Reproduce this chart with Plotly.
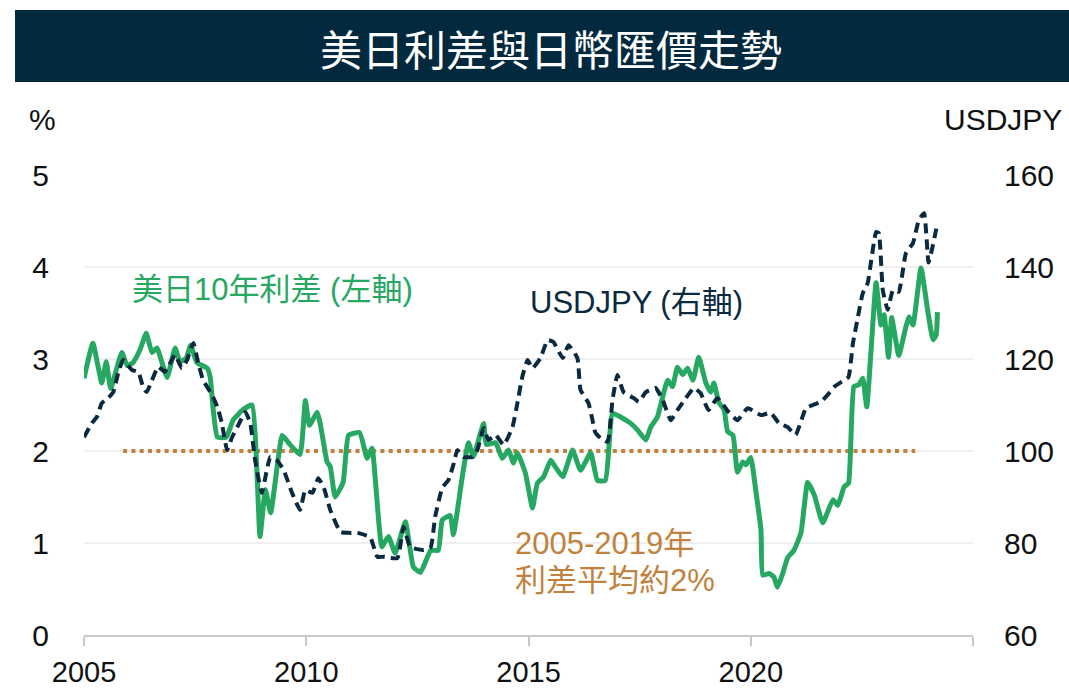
import plotly.graph_objects as go

# ---- Data ----
spread_t = [2005.0, 2005.2, 2005.4, 2005.5, 2005.6, 2005.85, 2005.97, 2006.1, 2006.26, 2006.4,
            2006.53, 2006.64, 2006.87, 2007.05, 2007.16, 2007.3, 2007.4, 2007.54, 2007.77, 2007.84,
            2007.9, 2008.0, 2008.2, 2008.36, 2008.58, 2008.78, 2008.96, 2009.08, 2009.2, 2009.46,
            2009.6, 2009.86, 2009.98, 2010.07, 2010.25, 2010.47, 2010.54, 2010.65, 2010.83, 2010.95,
            2011.2, 2011.37, 2011.48, 2011.7, 2011.85, 2012.0, 2012.23, 2012.41, 2012.57, 2012.8,
            2012.97, 2013.06, 2013.24, 2013.31, 2013.51, 2013.65, 2013.76, 2013.99, 2014.05, 2014.26,
            2014.41, 2014.55, 2014.66, 2014.75, 2014.93, 2015.09, 2015.2, 2015.34, 2015.5, 2015.6,
            2015.77, 2015.99, 2016.17, 2016.4, 2016.55, 2016.73, 2016.89, 2017.07, 2017.3, 2017.45,
            2017.64, 2017.75, 2017.9, 2018.13, 2018.24, 2018.35, 2018.47, 2018.58, 2018.7, 2018.83,
            2018.99, 2019.1, 2019.17, 2019.28, 2019.4, 2019.48, 2019.6, 2019.7, 2019.82, 2019.89,
            2020.0, 2020.11, 2020.23, 2020.27, 2020.41, 2020.52, 2020.6, 2020.72, 2020.83, 2020.97,
            2021.13, 2021.28, 2021.43, 2021.62, 2021.85, 2021.96, 2022.1, 2022.2, 2022.32, 2022.43,
            2022.52, 2022.61, 2022.82, 2022.93, 2023.0, 2023.1, 2023.17, 2023.33, 2023.49, 2023.56,
            2023.65, 2023.83, 2023.98, 2024.1, 2024.17, 2024.2]
spread_v = [2.79, 3.17, 2.74, 2.97, 2.68, 3.07, 2.93, 2.96, 3.10, 3.28,
            3.07, 3.12, 2.80, 3.12, 2.97, 3.01, 3.15, 2.96, 2.90, 2.80,
            2.48, 2.15, 2.15, 2.34, 2.45, 2.50, 1.07, 1.58, 1.33, 2.17,
            2.09, 1.96, 2.55, 2.28, 2.42, 1.88, 1.83, 1.50, 1.66, 2.17,
            2.20, 1.92, 2.03, 0.96, 1.07, 0.89, 1.23, 0.74, 0.68, 0.92,
            0.92, 1.25, 1.30, 1.09, 1.72, 2.09, 1.94, 2.30, 2.07, 2.09,
            1.92, 2.01, 1.87, 1.98, 1.76, 1.38, 1.65, 1.72, 1.90, 1.83,
            1.72, 2.01, 1.79, 1.98, 1.68, 1.68, 2.41, 2.37, 2.30, 2.23,
            2.12, 2.26, 2.37, 2.77, 2.70, 2.91, 2.83, 2.90, 2.77, 3.02,
            2.74, 2.64, 2.74, 2.53, 2.45, 2.21, 2.17, 1.77, 1.88, 1.85,
            1.93, 1.58, 1.14, 0.65, 0.67, 0.63, 0.52, 0.67, 0.84, 0.92,
            1.11, 1.66, 1.52, 1.22, 1.47, 1.41, 1.61, 1.65, 2.70, 2.72,
            2.79, 2.48, 3.83, 3.37, 3.48, 3.02, 3.45, 3.04, 3.35, 3.46,
            3.37, 3.99, 3.53, 3.21, 3.26, 3.51]

fx_t = [2005.0, 2005.18, 2005.29, 2005.4, 2005.54, 2005.66, 2005.77, 2005.88, 2006.08, 2006.22,
        2006.33, 2006.41, 2006.53, 2006.67, 2006.82, 2007.05, 2007.2, 2007.32, 2007.46, 2007.57,
        2007.68, 2007.88, 2008.0, 2008.1, 2008.22, 2008.33, 2008.45, 2008.63, 2008.74, 2008.85,
        2009.0, 2009.1, 2009.19, 2009.34, 2009.49, 2009.68, 2009.86, 2009.98, 2010.14, 2010.27,
        2010.39, 2010.54, 2010.77, 2010.99, 2011.15, 2011.33, 2011.44, 2011.6, 2011.73, 2012.05,
        2012.19, 2012.34, 2012.64, 2012.8, 2012.9, 2013.06, 2013.2, 2013.31, 2013.4, 2013.54,
        2013.74, 2013.85, 2013.99, 2014.1, 2014.26, 2014.44, 2014.64, 2014.75, 2014.86, 2014.98,
        2015.09, 2015.27, 2015.43, 2015.56, 2015.77, 2015.9, 2016.1, 2016.17, 2016.35, 2016.44,
        2016.5, 2016.62, 2016.78, 2016.89, 2017.0, 2017.14, 2017.37, 2017.48, 2017.64, 2017.86,
        2018.02, 2018.2, 2018.35, 2018.54, 2018.72, 2018.87, 2019.05, 2019.25, 2019.5, 2019.7,
        2019.93, 2020.23, 2020.45, 2020.63, 2020.83, 2021.01, 2021.24, 2021.4, 2021.58, 2021.73,
        2021.87, 2022.1, 2022.2, 2022.3, 2022.41, 2022.52, 2022.63, 2022.82, 2022.88, 2022.97,
        2023.08, 2023.2, 2023.33, 2023.49, 2023.65, 2023.78, 2023.9, 2024.0, 2024.1, 2024.2]
fx_v = [103.0, 106.1, 107.4, 110.4, 111.5, 112.8, 117.0, 119.8, 117.6, 117.2,
        113.9, 112.8, 115.4, 118.3, 117.2, 120.9, 118.0, 119.8, 123.5, 119.1,
        115.4, 112.2, 109.6, 106.1, 100.2, 103.0, 105.2, 108.5, 106.1, 98.0,
        90.9, 95.2, 98.7, 98.0, 95.9, 90.9, 87.2, 91.5, 90.9, 94.1,
        92.2, 87.2, 82.4, 82.2, 82.2, 81.7, 81.3, 77.0, 77.0, 76.7,
        83.5, 79.1, 78.5, 79.1, 85.7, 92.0, 93.7, 97.0, 100.2, 98.7,
        98.7, 100.2, 105.0, 102.4, 103.5, 101.3, 105.2, 110.4, 116.1, 119.8,
        118.0, 120.2, 124.1, 123.7, 120.2, 123.0, 120.2, 113.3, 110.4, 106.7,
        104.1, 102.8, 102.0, 111.1, 116.5, 112.8, 111.5, 110.7, 112.8, 113.7,
        111.1, 106.7, 108.9, 111.5, 113.7, 112.6, 108.9, 111.5, 108.5, 106.7,
        109.3, 107.8, 108.3, 106.1, 105.2, 103.5, 109.3, 110.0, 110.7, 112.2,
        113.9, 115.4, 116.1, 123.5, 129.1, 134.3, 136.5, 147.6, 147.4, 135.0,
        130.7, 135.0, 134.6, 143.0, 145.2, 150.2, 151.7, 141.0, 144.8, 149.6]

avg_t = [2005.88, 2023.7]
avg_v = [2.0, 2.0]

x_ticks = [2005, 2010, 2015, 2020, 2025]
x_labels = ["2005", "2010", "2015", "2020", ""]
left_ticks = [0, 1, 2, 3, 4, 5]
right_ticks = [60, 80, 100, 120, 140, 160]

GREEN = "#27a862"
NAVY = "#0b2a40"
ORANGE = "#c0823e"
LATIN = "Liberation Sans, Arial, sans-serif"
TICK_FONT = dict(family=LATIN, size=30, color="#111111")
MIX = "Liberation Sans, Arial, Noto Sans CJK TC, sans-serif"
CJK = "Noto Sans CJK TC, Noto Sans, sans-serif"

W, H = 1069, 692
PL, PR, PT, PB = 84, 973, 175, 635
PW, PH = PR - PL, PB - PT


def px(xp):
    return (xp - PL) / PW


def py(yp):
    return (PB - yp) / PH


fig = go.Figure()
fig.add_trace(go.Scatter(x=avg_t, y=avg_v, mode="lines",
                         line=dict(color=ORANGE, width=4, dash="4px,4.3px"),
                         hoverinfo="skip", showlegend=False))
fig.add_trace(go.Scatter(x=spread_t, y=spread_v, mode="lines",
                         line=dict(color=GREEN, width=5, shape="spline", smoothing=0.4),
                         name="美日10年利差", showlegend=False))
fig.add_trace(go.Scatter(x=fx_t, y=fx_v, mode="lines", yaxis="y2",
                         line=dict(color=NAVY, width=4, dash="10px,6px", shape="spline", smoothing=0.4),
                         name="USDJPY", showlegend=False))

fig.update_layout(
    width=W, height=H,
    margin=dict(l=PL, r=W - PR, t=PT, b=H - PB, autoexpand=False),
    paper_bgcolor="white", plot_bgcolor="white",
    xaxis=dict(range=[2005, 2025], tickvals=x_ticks, ticktext=x_labels, automargin=False,
               showgrid=False, zeroline=False, showline=True, linecolor="#c8c8c8", linewidth=2,
               ticks="outside", ticklen=9, tickcolor="#c8c8c8", tickwidth=1.5,
               ticklabelstandoff=1, tickfont=dict(family=LATIN, size=29, color="#111111"),
               fixedrange=True),
    yaxis=dict(range=[0, 5], tickvals=left_ticks, showgrid=True, gridcolor="#efefef", gridwidth=2,
               zeroline=False, showline=False, ticks="", ticklabelstandoff=34, automargin=False,
               tickfont=TICK_FONT, fixedrange=True),
    yaxis2=dict(range=[60, 160], tickvals=right_ticks, overlaying="y", side="right",
                showgrid=False, zeroline=False, showline=False, ticks="", automargin=False,
                ticklabelstandoff=30, tickfont=TICK_FONT, fixedrange=True),
    shapes=[dict(type="rect", xref="paper", yref="paper",
                 x0=px(15), x1=px(1075), y0=py(10), y1=py(82),
                 fillcolor="#02293d", line=dict(width=0), layer="above")],
    annotations=[
        dict(text="美日利差與日幣匯價走勢", xref="paper", yref="paper",
             x=px(551), y=py(47), showarrow=False,
             font=dict(family=CJK, size=42, color="white"), xanchor="center", yanchor="middle"),
        dict(text="%", xref="paper", yref="paper", x=px(27), y=py(120),
             showarrow=False, font=TICK_FONT, xanchor="left", yanchor="middle"),
        dict(text="USDJPY", xref="paper", yref="paper", x=px(1064), y=py(120),
             showarrow=False, font=TICK_FONT, xanchor="right", yanchor="middle"),
        dict(text="美日10年利差 (左軸)", xref="paper", yref="paper",
             x=px(130), y=py(289), showarrow=False,
             font=dict(family=MIX, size=31, color=GREEN), xanchor="left", yanchor="middle"),
        dict(text="USDJPY (右軸)", xref="paper", yref="paper",
             x=px(528), y=py(302), showarrow=False,
             font=dict(family=MIX, size=31, color=NAVY), xanchor="left", yanchor="middle"),
        dict(text="2005-2019年", xref="paper", yref="paper",
             x=px(513), y=py(543), showarrow=False,
             font=dict(family=MIX, size=31, color=ORANGE), xanchor="left", yanchor="middle"),
        dict(text="利差平均約2%", xref="paper", yref="paper",
             x=px(513), y=py(580), showarrow=False,
             font=dict(family=MIX, size=31, color=ORANGE), xanchor="left", yanchor="middle"),
    ],
)

fig.write_html("out.html", config={"displayModeBar": False},
               post_script="document.body.style.margin='0';document.body.style.overflow='hidden';")
